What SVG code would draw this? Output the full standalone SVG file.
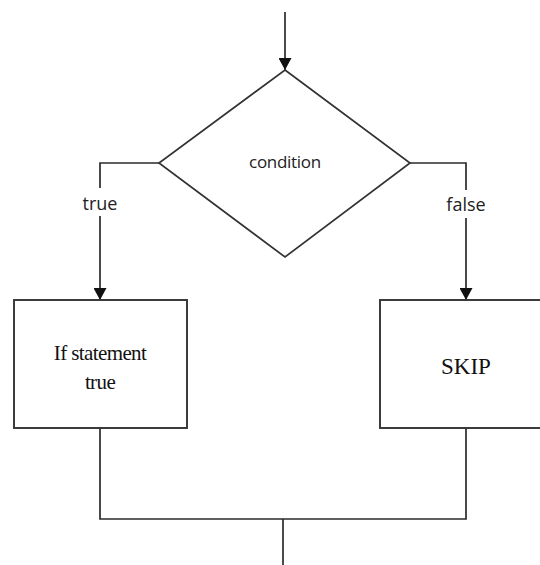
<svg xmlns="http://www.w3.org/2000/svg" width="540" height="565" viewBox="0 0 540 565">
<style>
.ln{fill:none;stroke:#2b2b2b;stroke-width:1.7}
.box{fill:#fff;stroke:#333;stroke-width:1.9}
.serif{font-family:"Liberation Serif","Times New Roman",serif;fill:#111;text-anchor:middle}
.sans{font-family:"Open Sans","Liberation Sans",sans-serif;fill:#222;text-anchor:middle}
</style>
<defs>
<marker id="arr" viewBox="0 0 12 13" refX="12" refY="6.5" markerWidth="12" markerHeight="13" markerUnits="userSpaceOnUse" orient="auto">
<path d="M0,0 L12,6.5 L0,13 Z" fill="#111"/>
</marker>
</defs>
<g id="connectors">
<line class="ln" x1="285" y1="12" x2="285" y2="70" marker-end="url(#arr)"/>
<polyline class="ln" points="159,163 100,163 100,188"/>
<line class="ln" x1="100" y1="216" x2="100" y2="300" marker-end="url(#arr)"/>
<polyline class="ln" points="410,163 466,163 466,190"/>
<line class="ln" x1="466" y1="218" x2="466" y2="300" marker-end="url(#arr)"/>
<polyline class="ln" points="100,428 100,519 466,519 466,428"/>
<line class="ln" x1="283" y1="519" x2="283" y2="565"/>
<text class="sans" x="100" y="210" font-size="18">true</text>
<text class="sans" x="466" y="211" font-size="18">false</text>
</g>
<g id="condition">
<polygon points="285,70 410,163 285,257 159,163" fill="#fff" stroke="#333" stroke-width="1.7"/>
<text class="sans" x="285" y="168" font-size="17" letter-spacing="-0.3">condition</text>
</g>
<g id="if-true">
<rect class="box" x="14" y="300" width="173" height="128"/>
<text class="serif" x="100" y="360" font-size="21" letter-spacing="-0.6">If statement</text>
<text class="serif" x="100" y="389" font-size="21" letter-spacing="-0.6">true</text>
</g>
<g id="skip">
<rect class="box" x="380" y="300" width="172" height="128"/>
<text class="serif" x="466" y="374" font-size="23">SKIP</text>
</g>
</svg>
